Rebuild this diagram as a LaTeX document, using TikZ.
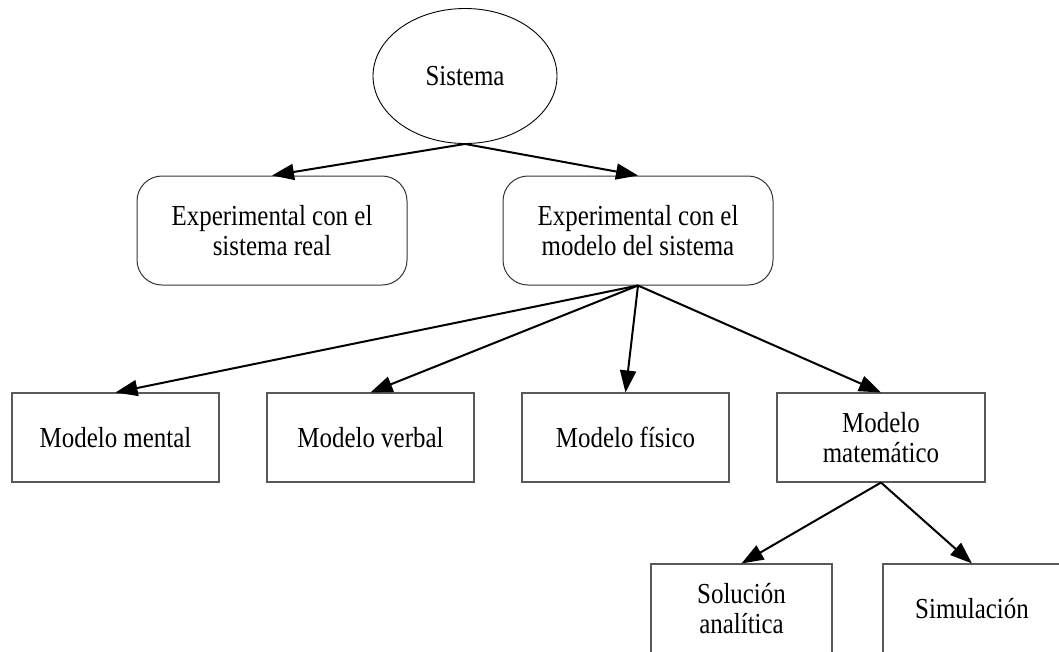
\documentclass[tikz,border=0pt]{standalone}
\usepackage{fontspec}
\setmainfont[FakeStretch=0.86]{Liberation Serif}
\usetikzlibrary{arrows.meta,shapes.geometric}
\begin{document}
\begin{tikzpicture}[x=1pt,y=-1pt,
  every node/.style={font=\fontsize{29}{30.5}\selectfont, align=center, inner sep=0pt},
  ell/.style={draw=black, line width=0.9pt, ellipse, minimum width=184pt, minimum height=135pt},
  rbox/.style={draw=black!80, line width=1pt, rounded corners=25pt, minimum width=270pt, minimum height=109pt},
  sbox/.style={draw=black!65, line width=1.1pt, minimum height=89pt},
  arr/.style={-{Triangle[length=22pt,width=16pt]}, line width=2pt, black}
]
\useasboundingbox (0,0) rectangle (1059,651);
\node[ell] (sis) at (465,76) {Sistema};
\node[rbox] (exr) at (272,230.5) {Experimental con el\\sistema real};
\node[rbox] (exm) at (638,230.5) {Experimental con el\\modelo del sistema};
\node[sbox, minimum width=207pt] (mm) at (115.5,437.5) {Modelo mental};
\node[sbox, minimum width=207pt] (mv) at (370.5,437.5) {Modelo verbal};
\node[sbox, minimum width=207pt] (mf) at (625.5,437.5) {Modelo físico};
\node[sbox, minimum width=208pt] (mt) at (881,437.5) {Modelo\\matemático};
\node[sbox, minimum width=181pt] (sa) at (741.5,608.5) {Solución\\analítica};
\node[sbox, minimum width=178pt] (sim) at (972,608.5) {Simulación};
\draw[arr] (sis.south) -- (exr.north);
\draw[arr] (sis.south) -- (exm.north);
\draw[arr] (exm.south) -- (mm.north);
\draw[arr] (exm.south) -- (mv.north);
\draw[arr] (exm.south) -- (mf.north);
\draw[arr] (exm.south) -- (mt.north);
\draw[arr] (mt.south) -- (sa.north);
\draw[arr] (mt.south) -- (sim.north);
\end{tikzpicture}
\end{document}
